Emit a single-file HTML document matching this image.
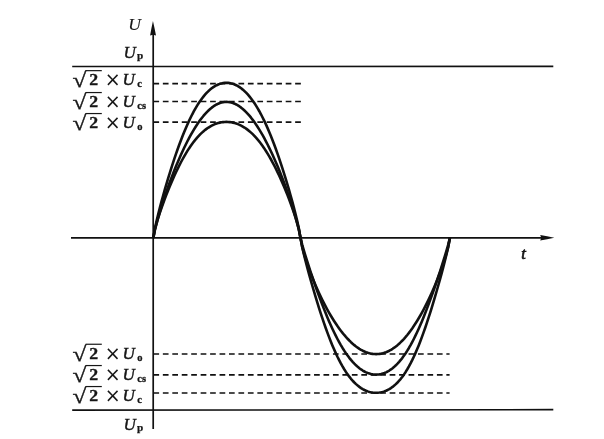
<!DOCTYPE html>
<html><head><meta charset="utf-8"><title>Waveform</title>
<style>html,body{margin:0;padding:0;background:#fff}svg{display:block}</style></head>
<body>
<svg width="604" height="439" viewBox="0 0 604 439">
<rect width="604" height="439" fill="#fff"/>
<g stroke="#111" fill="none">
<line x1="153.2" y1="34" x2="153.2" y2="429" stroke-width="1.7"/>
<line x1="71" y1="237.9" x2="542" y2="237.9" stroke-width="1.6"/>
<line x1="72.2" y1="66.55" x2="553.3" y2="66.4" stroke-width="1.6"/>
<line x1="72.2" y1="410.15" x2="553.3" y2="409.7" stroke-width="1.7"/>
<line x1="153.4" y1="83.6" x2="301.2" y2="83.6" stroke-width="1.6" stroke-dasharray="5.7 3.75"/>
<line x1="153.4" y1="101.45" x2="301.2" y2="101.45" stroke-width="1.6" stroke-dasharray="5.7 3.75"/>
<line x1="153.4" y1="122.15" x2="301.2" y2="122.15" stroke-width="1.6" stroke-dasharray="5.7 3.75"/>
<line x1="153.4" y1="393.0" x2="449.6" y2="393.0" stroke-width="1.6" stroke-dasharray="5.7 3.75"/>
<line x1="153.4" y1="374.9" x2="449.6" y2="374.9" stroke-width="1.6" stroke-dasharray="5.7 3.75"/>
<line x1="153.4" y1="354.05" x2="449.6" y2="354.05" stroke-width="1.6" stroke-dasharray="5.7 3.75"/>
<path d="M153.30,237.90 L154.93,228.48 L156.57,221.08 L158.20,214.29 L159.83,207.87 L161.46,201.70 L163.09,195.75 L164.72,189.97 L166.35,184.35 L167.97,178.88 L169.60,173.55 L171.22,168.36 L172.84,163.31 L174.47,158.40 L176.09,153.63 L177.71,149.00 L179.33,144.52 L180.95,140.19 L182.57,136.01 L184.19,131.99 L185.80,128.13 L187.42,124.42 L189.04,120.88 L190.66,117.50 L192.28,114.28 L193.90,111.23 L195.51,108.35 L197.13,105.63 L198.75,103.07 L200.37,100.68 L201.99,98.44 L203.61,96.37 L205.23,94.45 L206.86,92.68 L208.48,91.07 L210.10,89.61 L211.73,88.30 L213.35,87.13 L214.98,86.11 L216.61,85.22 L218.24,84.48 L219.87,83.87 L221.50,83.40 L223.13,83.07 L224.77,82.87 L226.40,82.80 L228.04,82.87 L229.67,83.07 L231.31,83.40 L232.95,83.87 L234.59,84.48 L236.23,85.22 L237.88,86.11 L239.52,87.13 L241.17,88.30 L242.81,89.61 L244.46,91.07 L246.11,92.68 L247.76,94.45 L249.41,96.37 L251.06,98.44 L252.71,100.68 L254.36,103.07 L256.01,105.63 L257.67,108.35 L259.32,111.23 L260.97,114.28 L262.62,117.50 L264.28,120.88 L265.93,124.42 L267.58,128.13 L269.23,131.99 L270.89,136.01 L272.54,140.19 L274.19,144.52 L275.84,149.00 L277.49,153.63 L279.14,158.40 L280.79,163.31 L282.44,168.36 L284.09,173.55 L285.73,178.88 L287.38,184.35 L289.02,189.97 L290.67,195.75 L292.31,201.70 L293.95,207.87 L295.59,214.29 L297.23,221.08 L298.86,228.48 L300.50,237.90 L302.16,246.85 L303.82,254.06 L305.49,260.76 L307.16,267.16 L308.83,273.35 L310.50,279.37 L312.17,285.26 L313.85,291.01 L315.53,296.64 L317.21,302.15 L318.89,307.54 L320.57,312.79 L322.25,317.91 L323.94,322.89 L325.62,327.72 L327.31,332.39 L329.00,336.89 L330.69,341.23 L332.38,345.39 L334.07,349.36 L335.76,353.15 L337.45,356.76 L339.15,360.17 L340.84,363.39 L342.53,366.42 L344.22,369.27 L345.91,371.92 L347.60,374.39 L349.29,376.68 L350.98,378.80 L352.66,380.74 L354.35,382.51 L356.03,384.13 L357.71,385.59 L359.39,386.90 L361.07,388.06 L362.75,389.09 L364.43,389.98 L366.10,390.74 L367.77,391.38 L369.44,391.89 L371.11,392.29 L372.78,392.57 L374.44,392.74 L376.10,392.80 L377.76,392.74 L379.42,392.57 L381.07,392.29 L382.72,391.89 L384.37,391.38 L386.02,390.74 L387.67,389.98 L389.31,389.09 L390.95,388.06 L392.59,386.90 L394.23,385.59 L395.87,384.13 L397.51,382.51 L399.14,380.74 L400.77,378.80 L402.41,376.68 L404.04,374.39 L405.67,371.92 L407.30,369.27 L408.93,366.42 L410.56,363.39 L412.19,360.17 L413.81,356.76 L415.44,353.15 L417.07,349.36 L418.70,345.39 L420.33,341.23 L421.96,336.89 L423.59,332.39 L425.23,327.72 L426.86,322.89 L428.49,317.91 L430.13,312.79 L431.77,307.54 L433.41,302.15 L435.05,296.64 L436.69,291.01 L438.33,285.26 L439.98,279.37 L441.63,273.35 L443.28,267.16 L444.93,260.76 L446.58,254.06 L448.24,246.85 L449.90,237.90" stroke-width="2.6" stroke-linejoin="round"/>
<path d="M153.30,237.90 L154.93,229.75 L156.57,223.34 L158.20,217.46 L159.83,211.93 L161.46,206.64 L163.09,201.55 L164.72,196.64 L166.35,191.89 L167.97,187.27 L169.60,182.79 L171.22,178.44 L172.84,174.21 L174.47,170.10 L176.09,166.10 L177.71,162.21 L179.33,158.44 L180.95,154.78 L182.57,151.24 L184.19,147.80 L185.80,144.48 L187.42,141.27 L189.04,138.18 L190.66,135.20 L192.28,132.34 L193.90,129.59 L195.51,126.97 L197.13,124.46 L198.75,122.08 L200.37,119.83 L201.99,117.70 L203.61,115.70 L205.23,113.82 L206.86,112.08 L208.48,110.47 L210.10,109.00 L211.73,107.66 L213.35,106.46 L214.98,105.40 L216.61,104.47 L218.24,103.69 L219.87,103.04 L221.50,102.54 L223.13,102.19 L224.77,101.97 L226.40,101.90 L228.04,101.97 L229.67,102.19 L231.31,102.54 L232.95,103.04 L234.59,103.69 L236.23,104.47 L237.88,105.40 L239.52,106.46 L241.17,107.66 L242.81,109.00 L244.46,110.47 L246.11,112.08 L247.76,113.82 L249.41,115.70 L251.06,117.70 L252.71,119.83 L254.36,122.08 L256.01,124.46 L257.67,126.97 L259.32,129.59 L260.97,132.34 L262.62,135.20 L264.28,138.18 L265.93,141.27 L267.58,144.48 L269.23,147.80 L270.89,151.24 L272.54,154.78 L274.19,158.44 L275.84,162.21 L277.49,166.10 L279.14,170.10 L280.79,174.21 L282.44,178.44 L284.09,182.79 L285.73,187.27 L287.38,191.89 L289.02,196.64 L290.67,201.55 L292.31,206.64 L293.95,211.93 L295.59,217.46 L297.23,223.34 L298.86,229.75 L300.50,237.90 L302.16,244.60 L303.82,250.40 L305.49,255.91 L307.16,261.25 L308.83,266.45 L310.50,271.54 L312.17,276.53 L313.85,281.44 L315.53,286.25 L317.21,290.97 L318.89,295.60 L320.57,300.13 L322.25,304.56 L323.94,308.88 L325.62,313.08 L327.31,317.18 L329.00,321.14 L330.69,324.98 L332.38,328.69 L334.07,332.26 L335.76,335.69 L337.45,338.98 L339.15,342.12 L340.84,345.12 L342.53,347.96 L344.22,350.65 L345.91,353.20 L347.60,355.59 L349.29,357.83 L350.98,359.93 L352.66,361.87 L354.35,363.67 L356.03,365.32 L357.71,366.84 L359.39,368.21 L361.07,369.44 L362.75,370.53 L364.43,371.50 L366.10,372.33 L367.77,373.02 L369.44,373.59 L371.11,374.03 L372.78,374.35 L374.44,374.54 L376.10,374.60 L377.76,374.54 L379.42,374.35 L381.07,374.03 L382.72,373.59 L384.37,373.02 L386.02,372.33 L387.67,371.50 L389.31,370.53 L390.95,369.44 L392.59,368.21 L394.23,366.84 L395.87,365.32 L397.51,363.67 L399.14,361.87 L400.77,359.93 L402.41,357.83 L404.04,355.59 L405.67,353.20 L407.30,350.65 L408.93,347.96 L410.56,345.12 L412.19,342.12 L413.81,338.98 L415.44,335.69 L417.07,332.26 L418.70,328.69 L420.33,324.98 L421.96,321.14 L423.59,317.18 L425.23,313.08 L426.86,308.88 L428.49,304.56 L430.13,300.13 L431.77,295.60 L433.41,290.97 L435.05,286.25 L436.69,281.44 L438.33,276.53 L439.98,271.54 L441.63,266.45 L443.28,261.25 L444.93,255.91 L446.58,250.40 L448.24,244.60 L449.90,237.90" stroke-width="2.6" stroke-linejoin="round"/>
<path d="M153.30,237.90 L154.93,229.43 L156.57,223.34 L158.20,217.90 L159.83,212.85 L161.46,208.07 L163.09,203.50 L164.72,199.10 L166.35,194.86 L167.97,190.75 L169.60,186.77 L171.22,182.91 L172.84,179.17 L174.47,175.56 L176.09,172.06 L177.71,168.67 L179.33,165.41 L180.95,162.27 L182.57,159.25 L184.19,156.35 L185.80,153.58 L187.42,150.93 L189.04,148.40 L190.66,146.00 L192.28,143.73 L193.90,141.57 L195.51,139.54 L197.13,137.63 L198.75,135.84 L200.37,134.17 L201.99,132.62 L203.61,131.18 L205.23,129.86 L206.86,128.64 L208.48,127.54 L210.10,126.53 L211.73,125.64 L213.35,124.84 L214.98,124.14 L216.61,123.54 L218.24,123.04 L219.87,122.63 L221.50,122.31 L223.13,122.08 L224.77,121.95 L226.40,121.90 L228.04,121.95 L229.67,122.08 L231.31,122.31 L232.95,122.63 L234.59,123.04 L236.23,123.54 L237.88,124.14 L239.52,124.84 L241.17,125.64 L242.81,126.53 L244.46,127.54 L246.11,128.64 L247.76,129.86 L249.41,131.18 L251.06,132.62 L252.71,134.17 L254.36,135.84 L256.01,137.63 L257.67,139.54 L259.32,141.57 L260.97,143.73 L262.62,146.00 L264.28,148.40 L265.93,150.93 L267.58,153.58 L269.23,156.35 L270.89,159.25 L272.54,162.27 L274.19,165.41 L275.84,168.67 L277.49,172.06 L279.14,175.56 L280.79,179.17 L282.44,182.91 L284.09,186.77 L285.73,190.75 L287.38,194.86 L289.02,199.10 L290.67,203.50 L292.31,208.07 L293.95,212.85 L295.59,217.90 L297.23,223.34 L298.86,229.43 L300.50,237.90 L302.16,246.79 L303.82,253.02 L305.49,258.51 L307.16,263.57 L308.83,268.32 L310.50,272.83 L312.17,277.14 L313.85,281.27 L315.53,285.25 L317.21,289.09 L318.89,292.80 L320.57,296.38 L322.25,299.85 L323.94,303.20 L325.62,306.43 L327.31,309.56 L329.00,312.58 L330.69,315.49 L332.38,318.29 L334.07,320.99 L335.76,323.58 L337.45,326.07 L339.15,328.45 L340.84,330.72 L342.53,332.89 L344.22,334.96 L345.91,336.92 L347.60,338.78 L349.29,340.52 L350.98,342.17 L352.66,343.71 L354.35,345.14 L356.03,346.46 L357.71,347.68 L359.39,348.80 L361.07,349.80 L362.75,350.71 L364.43,351.50 L366.10,352.19 L367.77,352.77 L369.44,353.25 L371.11,353.62 L372.78,353.89 L374.44,354.05 L376.10,354.10 L377.76,354.05 L379.42,353.89 L381.07,353.62 L382.72,353.25 L384.37,352.77 L386.02,352.19 L387.67,351.50 L389.31,350.71 L390.95,349.80 L392.59,348.80 L394.23,347.68 L395.87,346.46 L397.51,345.14 L399.14,343.71 L400.77,342.17 L402.41,340.52 L404.04,338.78 L405.67,336.92 L407.30,334.96 L408.93,332.89 L410.56,330.72 L412.19,328.45 L413.81,326.07 L415.44,323.58 L417.07,320.99 L418.70,318.29 L420.33,315.49 L421.96,312.58 L423.59,309.56 L425.23,306.43 L426.86,303.20 L428.49,299.85 L430.13,296.38 L431.77,292.80 L433.41,289.09 L435.05,285.25 L436.69,281.27 L438.33,277.14 L439.98,272.83 L441.63,268.32 L443.28,263.57 L444.93,258.51 L446.58,253.02 L448.24,246.79 L449.90,237.90" stroke-width="2.6" stroke-linejoin="round"/>
</g>
<path d="M152.95,21.0 Q154.7,28.5 156.0,35.5 L153.05,34.7 L150.1,35.5 Q151.3,28.5 152.95,21.0 Z" fill="#111"/>
<path d="M554.3,237.75 Q547,236.3 540.2,235.1 L541.2,237.8 L540.2,240.5 Q547,239.3 554.3,237.75 Z" fill="#111"/>
<g fill="#161616" font-family="'Liberation Serif', serif">
<text x="128.3" y="30.1" font-size="17.5" font-style="italic" stroke="#161616" stroke-width="0.15">U</text>
<text x="123.6" y="57.8" font-size="17" font-style="italic" stroke="#161616" stroke-width="0.4">U</text>
<text x="137.1" y="58.9" font-size="11.2" font-weight="bold" stroke="#161616" stroke-width="0.25">p</text>
<text x="123.6" y="429.7" font-size="17" font-style="italic" stroke="#161616" stroke-width="0.4">U</text>
<text x="137.1" y="430.9" font-size="11.2" font-weight="bold" stroke="#161616" stroke-width="0.25">p</text>
<text transform="translate(72.4,86.90) scale(1.19,1)" font-size="21.3" stroke="#161616" stroke-width="0.35">√</text>
<line x1="85.6" y1="70.65" x2="101.8" y2="70.65" stroke="#161616" stroke-width="1.2"/>
<text transform="translate(89.2,85.4) scale(1.08,1)" font-size="16.5" font-weight="bold" stroke="#161616" stroke-width="0.3">2</text>
<text x="104.8" y="86.15" font-size="19" font-family="'DejaVu Sans', sans-serif">×</text>
<text x="122.5" y="85.4" font-size="17" font-style="italic" stroke="#161616" stroke-width="0.45">U</text>
<text x="137.3" y="86.9" font-size="10.5" font-weight="bold" stroke="#161616" stroke-width="0.3">c</text>
<text transform="translate(72.4,108.80) scale(1.19,1)" font-size="21.3" stroke="#161616" stroke-width="0.35">√</text>
<line x1="85.6" y1="92.55" x2="101.8" y2="92.55" stroke="#161616" stroke-width="1.2"/>
<text transform="translate(89.2,107.3) scale(1.08,1)" font-size="16.5" font-weight="bold" stroke="#161616" stroke-width="0.3">2</text>
<text x="104.8" y="108.05" font-size="19" font-family="'DejaVu Sans', sans-serif">×</text>
<text x="122.5" y="107.3" font-size="17" font-style="italic" stroke="#161616" stroke-width="0.45">U</text>
<text x="137.3" y="108.8" font-size="10.5" font-weight="bold" stroke="#161616" stroke-width="0.3">cs</text>
<text transform="translate(72.4,129.80) scale(1.19,1)" font-size="21.3" stroke="#161616" stroke-width="0.35">√</text>
<line x1="85.6" y1="113.55" x2="101.8" y2="113.55" stroke="#161616" stroke-width="1.2"/>
<text transform="translate(89.2,128.3) scale(1.08,1)" font-size="16.5" font-weight="bold" stroke="#161616" stroke-width="0.3">2</text>
<text x="104.8" y="129.05" font-size="19" font-family="'DejaVu Sans', sans-serif">×</text>
<text x="122.5" y="128.3" font-size="17" font-style="italic" stroke="#161616" stroke-width="0.45">U</text>
<text x="137.3" y="129.8" font-size="10.5" font-weight="bold" stroke="#161616" stroke-width="0.3">o</text>
<text transform="translate(72.4,360.50) scale(1.19,1)" font-size="21.3" stroke="#161616" stroke-width="0.35">√</text>
<line x1="85.6" y1="344.25" x2="101.8" y2="344.25" stroke="#161616" stroke-width="1.2"/>
<text transform="translate(89.2,359.0) scale(1.08,1)" font-size="16.5" font-weight="bold" stroke="#161616" stroke-width="0.3">2</text>
<text x="104.8" y="359.75" font-size="19" font-family="'DejaVu Sans', sans-serif">×</text>
<text x="122.5" y="359.0" font-size="17" font-style="italic" stroke="#161616" stroke-width="0.45">U</text>
<text x="137.3" y="360.5" font-size="10.5" font-weight="bold" stroke="#161616" stroke-width="0.3">o</text>
<text transform="translate(72.4,381.80) scale(1.19,1)" font-size="21.3" stroke="#161616" stroke-width="0.35">√</text>
<line x1="85.6" y1="365.55" x2="101.8" y2="365.55" stroke="#161616" stroke-width="1.2"/>
<text transform="translate(89.2,380.3) scale(1.08,1)" font-size="16.5" font-weight="bold" stroke="#161616" stroke-width="0.3">2</text>
<text x="104.8" y="381.05" font-size="19" font-family="'DejaVu Sans', sans-serif">×</text>
<text x="122.5" y="380.3" font-size="17" font-style="italic" stroke="#161616" stroke-width="0.45">U</text>
<text x="137.3" y="381.8" font-size="10.5" font-weight="bold" stroke="#161616" stroke-width="0.3">cs</text>
<text transform="translate(72.4,402.80) scale(1.19,1)" font-size="21.3" stroke="#161616" stroke-width="0.35">√</text>
<line x1="85.6" y1="386.55" x2="101.8" y2="386.55" stroke="#161616" stroke-width="1.2"/>
<text transform="translate(89.2,401.3) scale(1.08,1)" font-size="16.5" font-weight="bold" stroke="#161616" stroke-width="0.3">2</text>
<text x="104.8" y="402.05" font-size="19" font-family="'DejaVu Sans', sans-serif">×</text>
<text x="122.5" y="401.3" font-size="17" font-style="italic" stroke="#161616" stroke-width="0.45">U</text>
<text x="137.3" y="402.8" font-size="10.5" font-weight="bold" stroke="#161616" stroke-width="0.3">c</text>
<text x="521.2" y="259.1" font-size="16.5" font-style="italic" stroke="#161616" stroke-width="0.7">t</text>
</g>
</svg>
</body></html>
